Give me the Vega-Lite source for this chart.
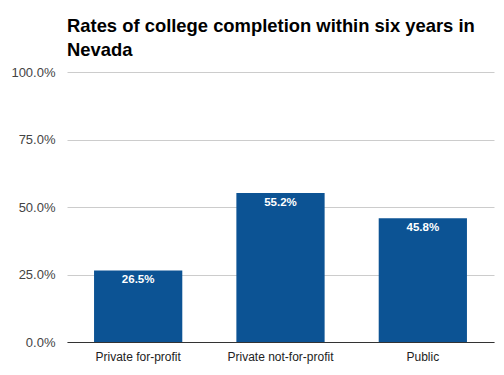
{
  "$schema": "https://vega.github.io/schema/vega-lite/v6.json",
  "width": 427,
  "height": 270,
  "autosize": {"type": "none"},
  "padding": {"left": 67, "top": 72, "right": 10, "bottom": 33},
  "background": "white",
  "title": {
    "text": ["Rates of college completion within six years in", "Nevada"],
    "anchor": "start",
    "frame": "group",
    "font": "Liberation Sans",
    "fontSize": 18.4,
    "fontWeight": "bold",
    "color": "#000000",
    "lineHeight": 24,
    "offset": 7
  },
  "data": {
    "values": [
      {"type": "Private for-profit", "rate": 0.265},
      {"type": "Private not-for-profit", "rate": 0.552},
      {"type": "Public", "rate": 0.458}
    ]
  },
  "encoding": {
    "x": {
      "field": "type",
      "type": "nominal",
      "sort": null,
      "scale": {"paddingInner": 0.38, "paddingOuter": 0.19},
      "axis": {
        "title": null,
        "labelAngle": 0,
        "labelFont": "Liberation Sans",
        "labelFontSize": 12,
        "labelColor": "#222222",
        "labelPadding": 9,
        "ticks": false,
        "domainColor": "#333333",
        "domainWidth": 1,
        "grid": false
      }
    },
    "y": {
      "field": "rate",
      "type": "quantitative",
      "scale": {"domain": [0, 1], "nice": false},
      "axis": {
        "title": null,
        "values": [0, 0.25, 0.5, 0.75, 1],
        "format": ".1%",
        "labelFont": "Liberation Sans",
        "labelFontSize": 13,
        "labelColor": "#444444",
        "labelPadding": 12,
        "ticks": false,
        "domain": false,
        "gridColor": "#cccccc",
        "gridWidth": 1
      }
    }
  },
  "layer": [
    {"mark": {"type": "bar", "color": "#0c5394"}},
    {
      "mark": {
        "type": "text",
        "baseline": "top",
        "dy": 4,
        "color": "white",
        "font": "Liberation Sans",
        "fontWeight": "bold",
        "fontSize": 11.5
      },
      "encoding": {"text": {"field": "rate", "type": "quantitative", "format": ".1%"}}
    }
  ],
  "config": {"view": {"stroke": null}}
}
